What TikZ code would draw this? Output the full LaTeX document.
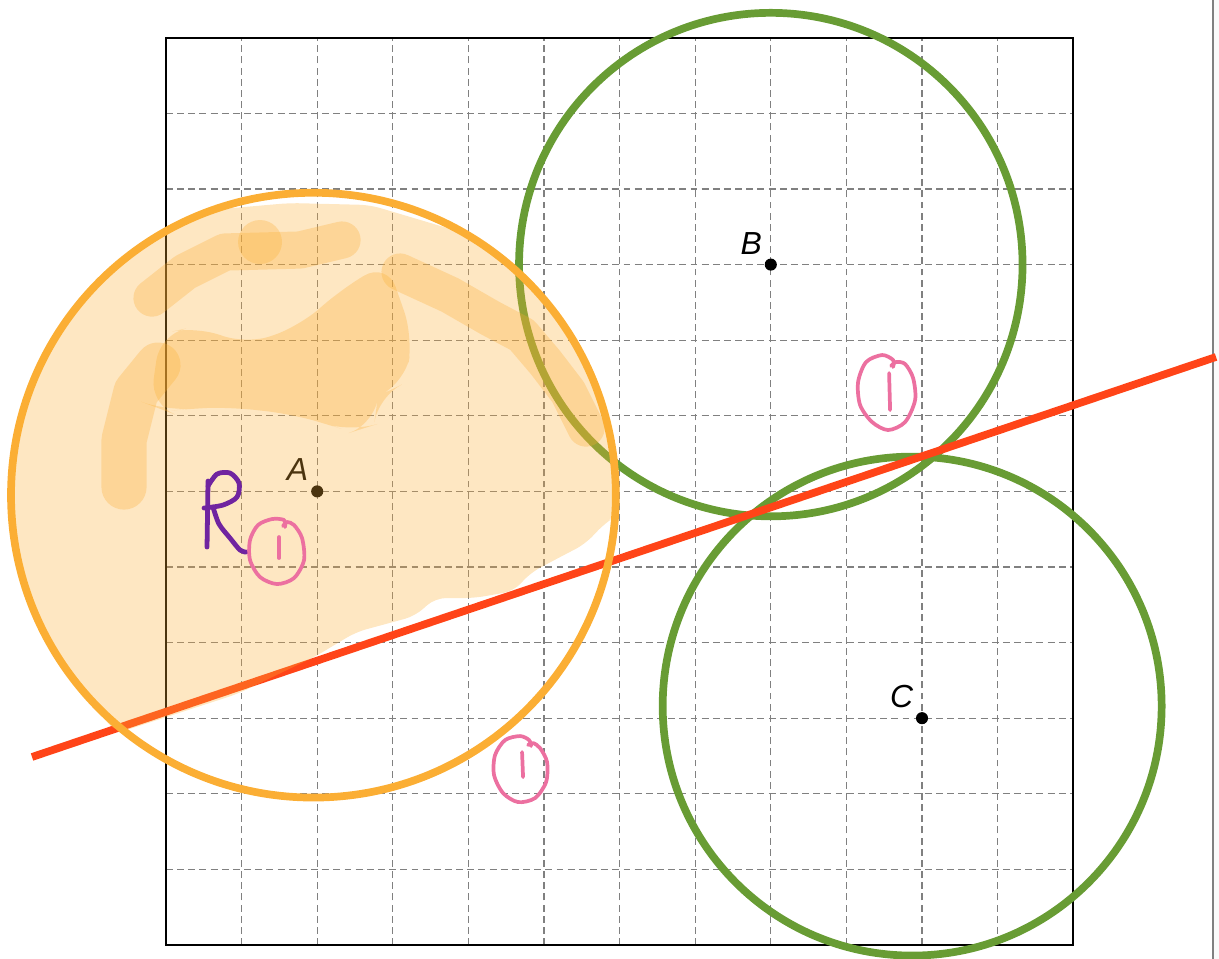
\documentclass[tikz,border=0pt]{standalone}
\usepackage{fontspec}
\setsansfont{Liberation Sans}
\usetikzlibrary{positioning}
\definecolor{gridgray}{RGB}{128,128,128}
\definecolor{ringorange}{RGB}{251,174,52}
\definecolor{ringgreen}{RGB}{104,156,52}
\definecolor{bisred}{RGB}{255,68,24}
\definecolor{inkpink}{RGB}{236,112,160}
\definecolor{inkpurple}{RGB}{112,36,160}

\begin{document}
\begin{tikzpicture}[
    gridline/.style={gridgray, line width=0.5pt, dash pattern=on 2.6pt off 1.6pt},
    frame/.style={black, line width=0.8pt},
    pt/.style={circle, fill=black, inner sep=0pt, minimum size=0.16cm},
    ptlabel/.style={font=\sffamily\itshape\fontsize{12}{14}\selectfont, inner sep=0pt},
    ring/.style={line width=2.9pt},
    marker/.style={ringorange, opacity=0.3, line cap=round, line join=round},
    ink/.style={line width=1.4pt, line cap=round, line join=round}
]
    \useasboundingbox (-2.1958,-0.1852) rectangle (13.9286,12.5);
    \fill[gray!4] (13.849,-0.1852) rectangle (13.9286,12.5);
    \draw[gridgray, line width=0.8pt] (13.849,-0.1852) -- (13.849,12.5);

    \foreach \k in {1,...,11} {
        \draw[gridline] (\k,0) -- (\k,12);
        \draw[gridline] (0,\k) -- (12,\k);
    }
    \draw[frame] (0,0) rectangle (12,12);

    \node[pt] (A) at (2,6) {};
    \node[pt] (B) at (8,9) {};
    \node[pt] (C) at (10,3) {};
    \node[ptlabel, above left=0.07cm and 0.05cm of A] (labA) {A};
    \node[ptlabel, above left=0.07cm and 0.05cm of B] (labB) {B};
    \node[ptlabel, above left=0.07cm and 0.05cm of C] (labC) {C};

    \coordinate (ringC) at (9.87,3.16);
    \coordinate (ringA) at (1.95,5.95);
    \draw[ringgreen, ring] (B) circle (3.33);
    \draw[ringgreen, ring] (ringC) circle (3.3);

    \coordinate (bisL) at (-1.772,2.487);
    \coordinate (bisR) at (13.889,7.778);
    \draw[bisred, ring] (bisL) -- (bisR);

    \begin{scope}[shift={(-2.1958cm,12.5cm)}, x=0.013228cm, y=-0.013228cm]
        \fill[marker, rounded corners=4pt] (117,733) -- (83,695) -- (52,650) -- (28,598) -- (14,547)
            -- (10,495) -- (14,443) -- (28,392) -- (52,340) -- (83,295) -- (117,261)
            -- (160,230) -- (210,210) -- (290,203) -- (370,205)
            -- (464,233) -- (527,281) -- (574,344) -- (604,417) -- (615,495)
            -- (616,516) -- (605,523) -- (585,544) -- (560,557) -- (530,573)
            -- (514,591) -- (474,598) -- (435,598) -- (415,616) -- (356,632)
            -- (316,656) -- (237,694) -- cycle;
        \fill[marker, rounded corners=10pt] (150,405) -- (160,334) -- (198,326) -- (245,345)
            -- (300,326) -- (340,290) -- (387,262) -- (413,337) -- (405,383)
            -- (378,396) -- (374,425) -- (352,432) -- (316,421) -- (292,414)
            -- (229,407) -- (198,408) -- (166,411) -- cycle;
        \draw[marker, line width=17pt] (124,487) -- (124,440) -- (136,392) -- (158,365);
        \draw[marker, line width=14pt] (152,298) -- (185,272) -- (225,252) -- (300,250) -- (342,240);
        \fill[marker] (260,242) circle (22);
        \draw[marker, line width=14pt] (400,272) -- (450,295) -- (490,318) -- (522,335)
            -- (545,362) -- (568,392) -- (586,428);
    \end{scope}

    \draw[ringorange, ring] (ringA) circle (4.0);

    \begin{scope}[shift={(-2.1958cm,12.5cm)}, x=0.013228cm, y=-0.013228cm]
        \draw[inkpurple, ink, line width=1.8pt] (207,547) -- (208,481);
        \draw[inkpurple, ink, line width=1.8pt] plot[smooth] coordinates {(208,486) (217,474) (230,473) (239,483) (237,497) (223,505) (204,508)};
        \draw[inkpurple, ink, line width=1.8pt] plot[smooth] coordinates {(213,507) (219,524) (230,538) (240,550) (246,552)};

        \draw[inkpink, ink] plot[smooth] coordinates {(285,527) (284,520) (272,519) (258,525) (250,540) (250,560) (260,577) (277,584) (294,578) (304,560) (302,538) (294,525) (287,522) (283,526)};
        \draw[inkpink, ink] (279,537) -- (279,558);

        \draw[inkpink, ink] plot[smooth] coordinates {(531,746) (529,740) (520,736) (505,740) (495,755) (494,775) (503,793) (518,802) (535,798) (546,782) (547,762) (540,748) (533,743) (528,745)};
        \draw[inkpink, ink] (522,752) -- (523,777);

        \draw[inkpink, ink] plot[smooth] coordinates {(893,367) (893,360) (882,355) (866,362) (858,382) (860,405) (872,422) (888,430) (905,422) (915,400) (913,378) (905,364) (896,362) (891,366)};
        \draw[inkpink, ink] (889,373) -- (890,410);
    \end{scope}
\end{tikzpicture}
\end{document}
